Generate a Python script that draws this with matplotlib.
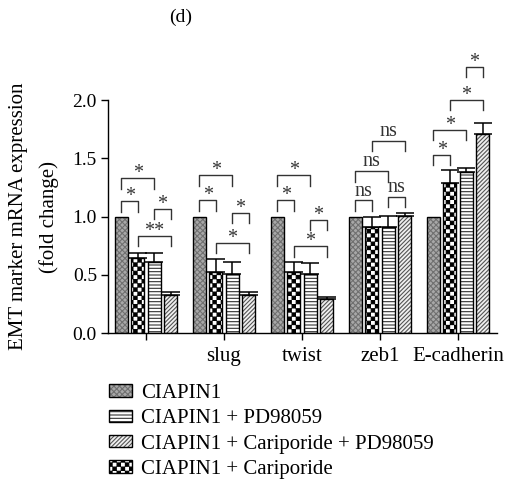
import numpy as np
import matplotlib
matplotlib.use('Agg')
import matplotlib.pyplot as plt
import matplotlib.hatch as mhatch
from matplotlib.path import Path
from matplotlib.patches import Patch
from matplotlib.ticker import FormatStrFormatter

# --- data ---
genes = ['', 'slug', 'twist', 'zeb1', 'E-cadherin']

ciapin1 = [1.0, 1.0, 1.0, 1.0, 1.0]
cariporide = [0.64, 0.52, 0.52, 0.91, 1.29]
pd98059 = [0.61, 0.51, 0.51, 0.91, 1.385]
cari_pd = [0.33, 0.33, 0.29, 1.005, 1.705]

ciapin1_err = [0.0, 0.0, 0.0, 0.0, 0.0]
cariporide_err = [0.05, 0.115, 0.09, 0.09, 0.11]
pd98059_err = [0.08, 0.10, 0.09, 0.095, 0.035]
cari_pd_err = [0.025, 0.02, 0.02, 0.025, 0.10]

# significance brackets: (gene index, bar a, bar b, height, label)
brackets = [
    (0, 0, 1, 1.13, '*'), (0, 0, 2, 1.33, '*'), (0, 2, 3, 1.065, '*'), (0, 1, 3, 0.835, '**'),
    (1, 0, 1, 1.14, '*'), (1, 0, 2, 1.355, '*'), (1, 2, 3, 1.03, '*'), (1, 1, 3, 0.775, '*'),
    (2, 0, 1, 1.14, '*'), (2, 0, 2, 1.355, '*'), (2, 2, 3, 0.97, '*'), (2, 1, 3, 0.745, '*'),
    (3, 0, 1, 1.14, 'ns'), (3, 0, 2, 1.39, 'ns'), (3, 2, 3, 1.17, 'ns'), (3, 1, 3, 1.65, 'ns'),
    (4, 0, 1, 1.53, '*'), (4, 0, 2, 1.745, '*'), (4, 1, 3, 2.0, '*'), (4, 2, 3, 2.285, '*'),
]


class CheckerHatch(mhatch.HatchPatternBase):
    """Filled checkerboard, hooked onto the 'o' hatch character."""

    def __init__(self, hatch, density):
        self.num_rows = int(hatch.count('o') * density)
        self.num_vertices = (self.num_rows ** 2 // 2) * 5 if self.num_rows else 0

    def set_vertices_and_codes(self, vertices, codes):
        step = 1.0 / self.num_rows
        inset = 0.004
        k = 0
        for i in range(self.num_rows):
            for j in range(self.num_rows):
                if (i + j) % 2:
                    continue
                x0, y0 = j * step + inset, i * step + inset
                x1, y1 = (j + 1) * step - inset, (i + 1) * step - inset
                vertices[k:k + 5] = [(x0, y0), (x1, y0), (x1, y1), (x0, y1), (x0, y0)]
                codes[k:k + 5] = [Path.MOVETO, Path.LINETO, Path.LINETO, Path.LINETO, Path.CLOSEPOLY]
                k += 5


mhatch._hatch_types = [t for t in mhatch._hatch_types if t is not mhatch.SmallCircles] + [CheckerHatch]

plt.rcParams['font.family'] = 'Liberation Serif'
plt.rcParams['hatch.linewidth'] = 0.8

# bar styles in plotting order: face, hatch, hatch colour
series = [
    ('CIAPIN1', ciapin1, ciapin1_err, '#a8a8a8', 'xxxxxx', '#707070'),
    ('CIAPIN1 + Cariporide', cariporide, cariporide_err, 'white', 'oooo', 'black'),
    ('CIAPIN1 + PD98059', pd98059, pd98059_err, 'white', '-----', '#333333'),
    ('CIAPIN1 + Cariporide + PD98059', cari_pd, cari_pd_err, '#f0f0f0', '////////', '#555555'),
]

fig = plt.figure(figsize=(5.16, 4.86), dpi=100)
ax = fig.add_axes([108 / 516, 1 - 333 / 486, 389 / 516, 233 / 486])

x = np.arange(len(genes))
width = 0.167
step = 0.21
offsets = (np.arange(4) - 1.5) * step

handles = {}
for k, (label, vals, errs, face, hatch, hcol) in enumerate(series):
    pos = x + offsets[k]
    ax.bar(pos, vals, width, color=face, hatch=hatch, edgecolor=hcol, linewidth=0, zorder=2)
    ax.bar(pos, vals, width, fill=False, edgecolor='black', linewidth=1.0, zorder=3)
    if any(e > 0 for e in errs):
        ax.errorbar(pos, vals, yerr=[np.zeros(len(errs)), errs], fmt='none', ecolor='black',
                    elinewidth=1.1, capsize=6.5, capthick=1.1, zorder=4)
    handles[label] = (Patch(facecolor=face, hatch=hatch, edgecolor=hcol, linewidth=0),
                      Patch(fill=False, edgecolor='black', linewidth=1.0))

# significance brackets
leg = 0.09
for g, a, b, y, txt in brackets:
    xa, xb = x[g] + offsets[a], x[g] + offsets[b]
    ax.plot([xa, xa, xb, xb], [y - leg, y, y, y - leg], color='#333333', lw=1.0,
            clip_on=False, zorder=5)
    dy = 0.04 if txt == 'ns' else 0.0
    ax.text((xa + xb) / 2, y + dy, txt, ha='center', va='baseline', fontsize=14.5,
            color='#333333', clip_on=False)

ax.set_xlim(-0.487, 4.5)
ax.set_ylim(0, 2.0)
ax.set_yticks([0, 0.5, 1.0, 1.5, 2.0])
ax.yaxis.set_major_formatter(FormatStrFormatter('%.1f'))
ax.set_xticks(x)
ax.set_xticklabels(genes)
ax.tick_params(axis='both', length=5, width=1.0, color='black')
ax.tick_params(axis='x', pad=5, labelsize=15)
ax.tick_params(axis='y', pad=3, labelsize=14)
ax.spines['top'].set_visible(False)
ax.spines['right'].set_visible(False)
ax.spines['left'].set_linewidth(1.0)
ax.spines['bottom'].set_linewidth(1.0)
ax.set_ylabel('EMT marker mRNA expression\n(fold change)', fontsize=15, labelpad=10,
              linespacing=1.75)

fig.text(181 / 516, 1 - 17 / 486, '(d)', ha='center', va='center', fontsize=14)

legend_order = ['CIAPIN1', 'CIAPIN1 + PD98059', 'CIAPIN1 + Cariporide + PD98059', 'CIAPIN1 + Cariporide']
fig.legend([handles[l] for l in legend_order], legend_order, loc='upper left',
           bbox_to_anchor=(109 / 516, 1 - 384 / 486), frameon=False, fontsize=15,
           handlelength=1.1, handleheight=0.53, labelspacing=0.3, handletextpad=0.45,
           borderpad=0, borderaxespad=0)

fig.savefig('out.png', dpi=100)
